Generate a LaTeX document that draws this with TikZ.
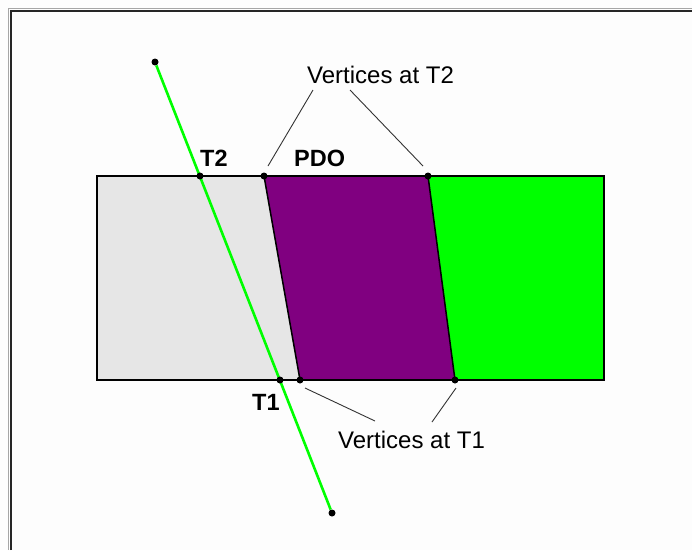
\documentclass[tikz,border=0pt]{standalone}
\usepackage{fontspec}
\setmainfont{Liberation Sans}
\definecolor{bggray}{HTML}{FDFDFD}
\definecolor{lgray}{HTML}{E6E6E6}
\definecolor{pdo}{HTML}{800080}
\definecolor{brightgreen}{HTML}{00FF00}
\begin{document}
\begin{tikzpicture}[x=1pt,y=-1pt,
  lbl/.style={inner sep=0pt, anchor=base west, font=\fontsize{24}{28}\selectfont},
  blbl/.style={lbl, font=\fontsize{23.5}{28}\selectfont\bfseries},
  dot/.style={circle, fill=black, inner sep=0pt, minimum size=7pt},
  leader/.style={draw=black!80, line width=0.9pt},
  edge/.style={draw=black, line width=1.5pt}]
\useasboundingbox (0,0) rectangle (692,550);
\fill[bggray] (0,0) rectangle (692,550);
% window frame
\draw[black!35, line width=1pt] (8.5,550) -- (8.5,8.5) -- (692,8.5);
\draw[black!85, line width=1.6pt] (11,550) -- (11,11) -- (692,11);
% regions
\coordinate (RTL) at (97,176);
\coordinate (RBR) at (604,380);
\coordinate (PTL) at (264,176);
\coordinate (PTR) at (428,176);
\coordinate (PBR) at (455,380);
\coordinate (PBL) at (300,380);
\fill[lgray] (97,176) rectangle (604,380);
\fill[brightgreen] (PTR) -- (604,176) -- (604,380) -- (PBR) -- cycle;
\fill[pdo] (PTL) -- (PTR) -- (PBR) -- (PBL) -- cycle;
\draw[edge] (RTL) rectangle (RBR);
\draw[edge] (PTL) -- (PBL);
\draw[edge] (PTR) -- (PBR);
% trajectory
\node[dot] (S) at (155,62) {};
\node[dot] (E) at (332,513) {};
\draw[brightgreen, line width=2.6pt] (S) -- (E);
\node[dot] (T2p) at (200,176) {};
\node[dot] (T1p) at (280,380) {};
\node[dot] (V2a) at (264,176) {};
\node[dot] (V2b) at (428,176) {};
\node[dot] (V1a) at (300,380) {};
\node[dot] (V1b) at (455,380) {};
% labels
\node[blbl] (T2) at (200,166) {T2};
\node[blbl] (PDO) at (294,166) {PDO};
\node[blbl] (T1) at (252,410) {T1};
\node[lbl] (VT2) at (307,83) {Vertices at T2};
\node[lbl] (VT1) at (338,448) {Vertices at T1};
% leaders
\coordinate (a1) at (313,90);
\coordinate (a2) at (268,166);
\coordinate (b1) at (350,90);
\coordinate (b2) at (423,166);
\coordinate (c1) at (375,421);
\coordinate (c2) at (305,388);
\coordinate (d1) at (432,422);
\coordinate (d2) at (456,388);
\draw[leader] (a1) -- (a2);
\draw[leader] (b1) -- (b2);
\draw[leader] (c1) -- (c2);
\draw[leader] (d1) -- (d2);
\end{tikzpicture}
\end{document}
